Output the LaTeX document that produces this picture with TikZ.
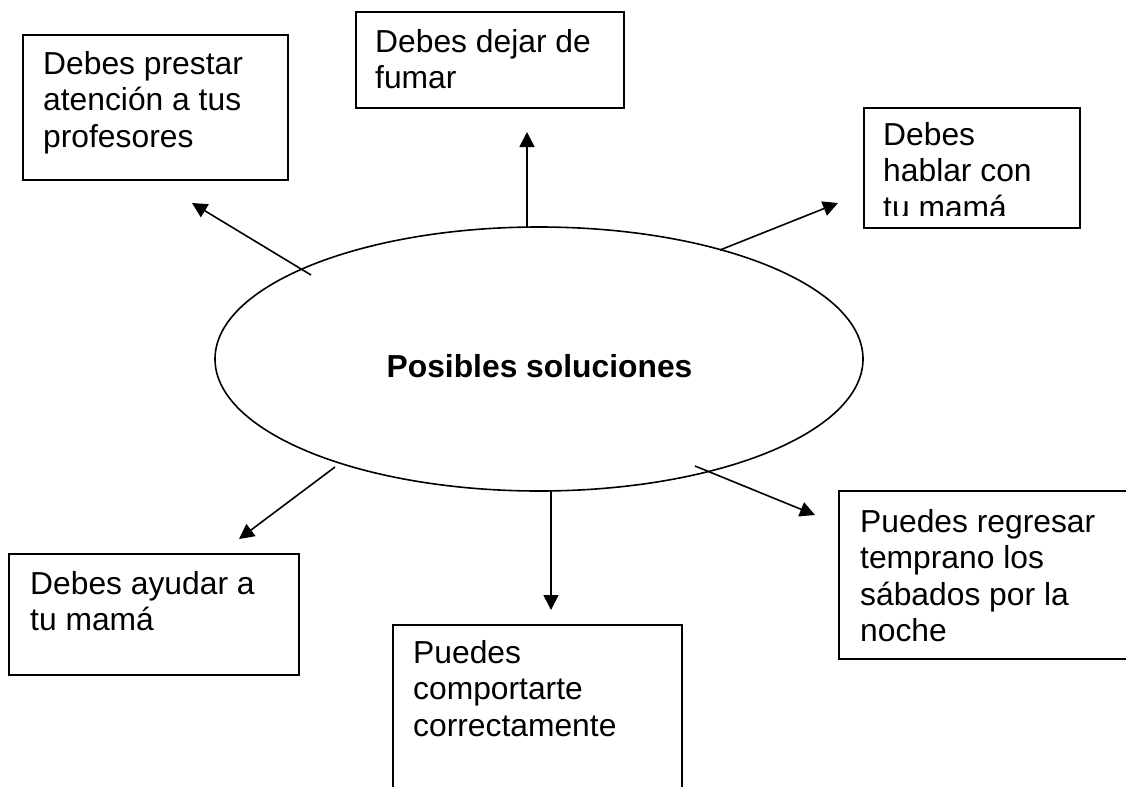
\documentclass[tikz,border=0pt]{standalone}
\usepackage{fontspec}
\setmainfont{Liberation Sans}
\usetikzlibrary{shapes.geometric,arrows.meta}
\tikzset{
  boxline/.style={draw, line width=2pt, line join=miter},
  boxnode/.style={boxline, rectangle, anchor=north west, inner sep=0pt},
  arr/.style={line width=1.6pt, -{Triangle[length=15pt,width=15pt]}},
  txt/.style={anchor=base west, inner sep=0pt, font=\fontsize{31.8}{36.6}\selectfont},
  titletxt/.style={anchor=base, inner sep=0pt, font=\fontsize{31.8}{36.6}\selectfont\bfseries},
}
\begin{document}
\begin{tikzpicture}[x=1pt, y=-1pt]
\useasboundingbox (0,0) rectangle (1126,787);

% central ellipse
\node[draw, ellipse, line width=1.6pt, minimum width=648pt, minimum height=264pt, inner sep=0pt] (ell) at (539,359) {};
\node[titletxt] (title) at (539.5,377) {Posibles soluciones};

% boxes
\node[boxnode, minimum width=265pt, minimum height=145pt] (tlbox) at (22,34) {};
\node[txt] (tltext) at (43,74) {\parbox[t]{300pt}{Debes prestar\\atención a tus\\profesores}};

\node[boxnode, minimum width=268pt, minimum height=96pt] (tmbox) at (355,11) {};
\node[txt] (tmtext) at (375,52) {\parbox[t]{300pt}{Debes dejar de\\fumar}};

\node[boxnode, minimum width=216pt, minimum height=120pt] (trbox) at (863,107) {};
\begin{scope}
  \clip (863,107) rectangle (1079,215);
  \node[txt] (trtext) at (883,145) {\parbox[t]{300pt}{Debes\\hablar con\\tu mamá}};
\end{scope}

\node[boxnode, minimum width=290pt, minimum height=121pt] (blbox) at (8,553) {};
\node[txt] (bltext) at (30,594) {\parbox[t]{300pt}{Debes ayudar a\\tu mamá}};

\coordinate (bm1) at (393,787);
\coordinate (bm2) at (393,625);
\coordinate (bm3) at (682,625);
\coordinate (bm4) at (682,787);
\draw[boxline] (bm1) -- (bm2) -- (bm3) -- (bm4);
\node[txt] (bmtext) at (413,663) {\parbox[t]{300pt}{Puedes\\comportarte\\correctamente}};

\coordinate (br1) at (1126,491);
\coordinate (br2) at (839,491);
\coordinate (br3) at (839,659);
\coordinate (br4) at (1126,659);
\draw[boxline] (br1) -- (br2) -- (br3) -- (br4);
\node[txt] (brtext) at (860,532) {\parbox[t]{300pt}{Puedes regresar\\temprano los\\sábados por la\\noche}};

% arrows
\coordinate (s1) at (311,275); \coordinate (t1) at (192,203);
\coordinate (s2) at (527,227); \coordinate (t2) at (527,132);
\coordinate (s3) at (720,250); \coordinate (t3) at (838,203);
\coordinate (s4) at (335,467); \coordinate (t4) at (239,539);
\coordinate (s5) at (551,491); \coordinate (t5) at (551,610);
\coordinate (s6) at (695,466); \coordinate (t6) at (815,515);
\draw[arr] (s1) -- (t1);
\draw[arr] (s2) -- (t2);
\draw[arr] (s3) -- (t3);
\draw[arr] (s4) -- (t4);
\draw[arr] (s5) -- (t5);
\draw[arr] (s6) -- (t6);
\end{tikzpicture}
\end{document}
